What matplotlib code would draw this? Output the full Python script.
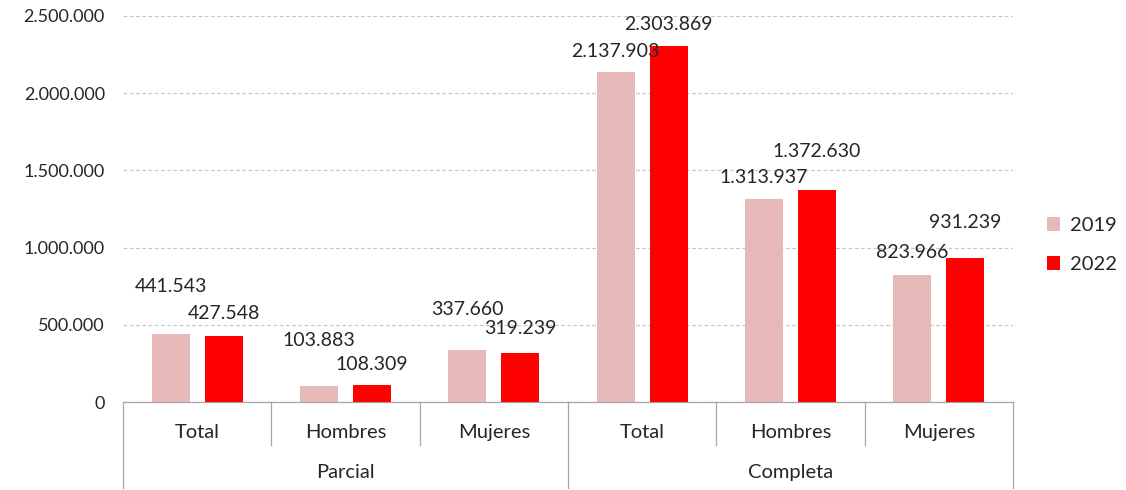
import matplotlib
matplotlib.use("Agg")
import matplotlib.pyplot as plt
import matplotlib.transforms as mtransforms
from matplotlib.patches import Patch
import numpy as np

# Data
groups = ["Parcial", "Completa"]
categories = ["Total", "Hombres", "Mujeres", "Total", "Hombres", "Mujeres"]
years = ["2019", "2022"]
values_2019 = [441543, 103883, 337660, 2137903, 1313937, 823966]
values_2022 = [427548, 108309, 319239, 2303869, 1372630, 931239]
yticks = [0, 500000, 1000000, 1500000, 2000000, 2500000]

# Label lift above bar tops (pixels)
lift_2019 = [47, 45, 40, 20, 22, 22]
lift_2022 = [22, 21, 24, 22, 39, 36]

col_2019 = "#E6B8B7"
col_2022 = "#FF0000"
txt_col = "#262626"
line_col = "#A6A6A6"

plt.rcParams["font.family"] = ["Lato", "DejaVu Sans"]

fig = plt.figure(figsize=(11.26, 4.90), dpi=100)
ax = fig.add_axes([123 / 1126, 88 / 490, 890 / 1126, 386 / 490])

def fmt(v):
    return f"{v:,}".replace(",", ".")

x = np.arange(len(categories))
w = 0.256
off = 0.179
b1 = ax.bar(x - off, values_2019, w, color=col_2019, zorder=3)
b2 = ax.bar(x + off, values_2022, w, color=col_2022, zorder=3)

for bars, vals, lifts in ((b1, values_2019, lift_2019), (b2, values_2022, lift_2022)):
    for rect, v, l in zip(bars, vals, lifts):
        ax.annotate(fmt(v), (rect.get_x() + rect.get_width() / 2, v),
                    xytext=(0, l * 72 / 100), textcoords="offset points",
                    ha="center", va="center", fontsize=14, color=txt_col, zorder=5)

ax.set_xlim(-0.5, len(categories) - 0.5)
ax.set_ylim(0, 2500000)
ax.set_yticks(yticks)
ax.set_yticklabels([fmt(t) for t in yticks], fontsize=13, color=txt_col)
ax.tick_params(axis="y", length=0, pad=13)
ax.set_xticks([])
ax.grid(axis="y", color="#C8C8C8", linestyle=(0, (3, 2)), linewidth=0.9, zorder=0)
for s in ("top", "right", "left"):
    ax.spines[s].set_visible(False)
ax.spines["bottom"].set_color(line_col)
ax.spines["bottom"].set_linewidth(0.9)

trans = mtransforms.blended_transform_factory(ax.transData, ax.transAxes)
n = len(categories)
per_group = n // len(groups)
for b in range(n + 1):
    xb = b - 0.5
    y_end = -0.223 if b % per_group == 0 else -0.111
    ax.plot([xb, xb], [0, y_end], transform=trans, color=line_col,
            linewidth=0.9, clip_on=False)

for i, c in enumerate(categories):
    ax.text(i, -0.078, c, transform=trans, ha="center", va="center",
            fontsize=14.5, color=txt_col)
for g, name in enumerate(groups):
    xc = g * per_group + (per_group - 1) / 2
    ax.text(xc, -0.182, name, transform=trans, ha="center", va="center",
            fontsize=14.5, color=txt_col)

handles = [Patch(facecolor=col_2019), Patch(facecolor=col_2022)]
leg = fig.legend(handles, years, loc="center left",
                 bbox_to_anchor=(1029 / 1126, 1 - 245 / 490),
                 frameon=False, fontsize=14.5, handlelength=0.65, handleheight=0.65,
                 handletextpad=0.5, labelspacing=1.1, labelcolor=txt_col)

fig.savefig("out.png", dpi=100)
